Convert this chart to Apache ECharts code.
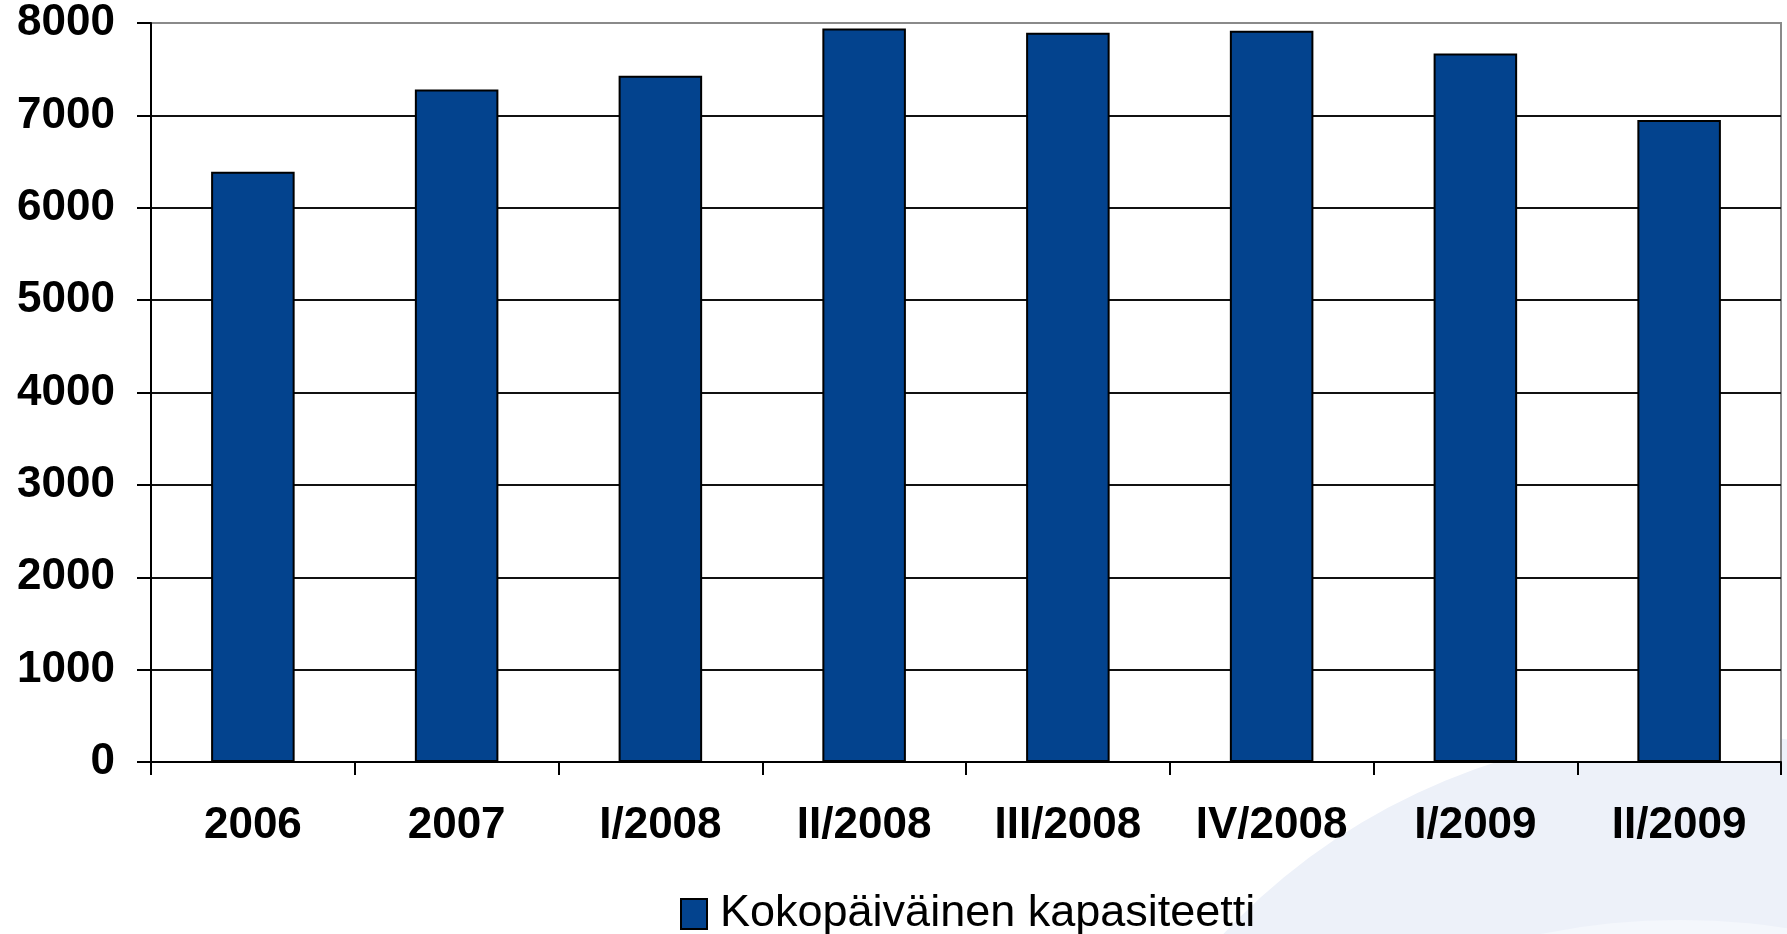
<!DOCTYPE html>
<html>
<head>
<meta charset="utf-8">
<script src="https://cdn.jsdelivr.net/npm/echarts@6/dist/echarts.min.js"></script>
<style>
html,body{margin:0;padding:0;background:#fff;}
#chart{width:1787px;height:934px;}
</style>
</head>
<body>
<div id="chart"></div>
<script>
const categories = ['2006', '2007', 'I/2008', 'II/2008', 'III/2008', 'IV/2008', 'I/2009', 'II/2009'];
const values = [6390, 7280, 7430, 7940, 7895, 7915, 7670, 6950];
const seriesName = 'Kokopäiväinen kapasiteetti';
const yTicks = [0, 1000, 2000, 3000, 4000, 5000, 6000, 7000, 8000];

const chart = echarts.init(document.getElementById('chart'), null, {renderer: 'canvas'});
const gridColors = yTicks.map((t, i) => i === yTicks.length - 1 ? '#8a8a8a' : '#111111');

chart.setOption({
  backgroundColor: '#ffffff',
  animation: false,
  graphic: [
    {type: 'circle', z: -10, shape: {cx: 1690, cy: 1372, r: 640}, style: {fill: '#edf1f9'}},
    {type: 'circle', z: -9, shape: {cx: 1680, cy: 1620, r: 700}, style: {fill: '#f4f7fc'}}
  ],
  grid: {
    left: 151, right: 6, top: 23, bottom: 172,
    show: true, backgroundColor: '#ffffff', borderColor: '#8a8a8a', borderWidth: 2
  },
  legend: {
    data: [seriesName],
    icon: 'rect',
    left: 675, top: 886,
    itemWidth: 26, itemHeight: 30,
    textStyle: {fontFamily: 'Liberation Sans, Arial, sans-serif', fontSize: 45, color: '#000', lineHeight: 46, padding: [0, 0, 0, 8]}
  },
  xAxis: {
    type: 'category',
    data: categories,
    boundaryGap: true,
    axisLine: {show: true, lineStyle: {color: '#000', width: 2}},
    axisTick: {show: true, alignWithLabel: false, interval: 0, length: 13, lineStyle: {color: '#000', width: 2}},
    axisLabel: {
      interval: 0, margin: 42, color: '#000',
      fontFamily: 'Liberation Sans, Arial, sans-serif', fontWeight: 'bold', fontSize: 44
    }
  },
  yAxis: {
    type: 'value',
    min: 0, max: 8000, interval: 1000,
    axisLine: {show: true, lineStyle: {color: '#000', width: 2}},
    axisTick: {show: true, inside: false, length: 14, lineStyle: {color: '#000', width: 2}},
    axisLabel: {
      margin: 36, color: '#000',
      fontFamily: 'Liberation Sans, Arial, sans-serif', fontWeight: 'bold', fontSize: 44,
      formatter: v => String(v)
    },
    splitLine: {show: true, lineStyle: {color: gridColors, width: 2}}
  },
  series: [{
    name: seriesName,
    type: 'bar',
    data: values,
    barWidth: '41%',
    itemStyle: {color: '#03438e', borderColor: '#000', borderWidth: 2}
  }]
});
</script>
</body>
</html>
